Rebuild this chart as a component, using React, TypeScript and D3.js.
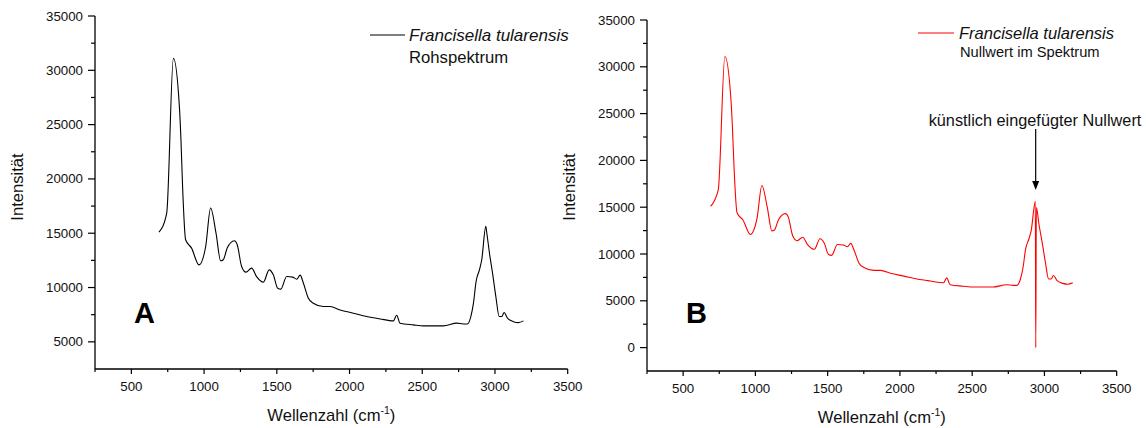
import React from "react";
import * as d3 from "d3";

const wavenumbers = [690, 743, 789, 830, 841, 853, 873, 914, 965, 1011, 1045, 1082, 1114, 1132, 1159, 1208, 1228, 1258, 1288, 1327, 1361, 1408, 1447, 1476, 1506, 1527, 1568, 1609, 1637, 1660, 1683, 1717, 1751, 1820, 1866, 1935, 2027, 2118, 2210, 2302, 2324, 2347, 2439, 2508, 2623, 2645, 2738, 2783, 2810, 2834, 2852, 2870, 2893, 2909, 2937, 2944, 2962, 2985, 3006, 3029, 3047, 3063, 3086, 3127, 3161, 3196];
const intensities = [15100, 16860, 31100, 26700, 23600, 19010, 14400, 13630, 12090, 13780, 17320, 15010, 12460, 12560, 13640, 14310, 13940, 11940, 11420, 11790, 11010, 10500, 11630, 11170, 9940, 9850, 11010, 10960, 10770, 11140, 10400, 9020, 8560, 8250, 8250, 7940, 7640, 7330, 7110, 6930, 7450, 6720, 6560, 6470, 6470, 6470, 6720, 6650, 6650, 7330, 8560, 10550, 11630, 12560, 15630, 15000, 13180, 11170, 9170, 7330, 7330, 7700, 7180, 6860, 6770, 6930];

const nullWavenumber = 2940;
const nullIntensity = 0;

const xTicks = [500, 1000, 1500, 2000, 2500, 3000, 3500];
const xMinorTicks = [250, 750, 1250, 1750, 2250, 2750, 3250];
const yTicksA = [5000, 10000, 15000, 20000, 25000, 30000, 35000];
const yMinorA = [7500, 12500, 17500, 22500, 27500, 32500];
const yTicksB = [0, 5000, 10000, 15000, 20000, 25000, 30000, 35000];
const yMinorB = [2500, 7500, 12500, 17500, 22500, 27500, 32500];

type Pt = { x: number; y: number };
const spectrumA: Pt[] = wavenumbers.map((x, i) => ({ x, y: intensities[i] }));
const spectrumB: Pt[] = [...spectrumA, { x: nullWavenumber, y: nullIntensity }].sort((a, b) => a.x - b.x);

const FONT = "'Liberation Sans', Arial, sans-serif";

function Panel(props: {
  x0: number; x1: number; yTop: number; yBottom: number; yMin: number;
  data: Pt[]; color: string; yTicks: number[]; yMinor: number[];
  letter: string; letterX: number; letterY: number; yLabelX: number;
}) {
  const { x0, x1, yTop, yBottom, yMin, data, color, yTicks, yMinor } = props;
  const xs = d3.scaleLinear().domain([250, 3500]).range([x0, x1]);
  const ys = d3.scaleLinear().domain([yMin, 35000]).range([yBottom, yTop]);
  const line = d3.line<Pt>().x(d => xs(d.x)).y(d => ys(d.y)).curve(d3.curveMonotoneX);
  return (
    <g fontFamily={FONT}>
      <path d={line(data) || ""} fill="none" stroke={color} strokeWidth={1.1} />
      <line x1={x0} x2={x0} y1={yTop} y2={yBottom} stroke="#000" strokeWidth={1.3} />
      <line x1={x0} x2={x1} y1={yBottom} y2={yBottom} stroke="#000" strokeWidth={1.3} />
      {yTicks.map(t => (
        <g key={"y" + t}>
          <line x1={x0 - 7} x2={x0} y1={ys(t)} y2={ys(t)} stroke="#000" strokeWidth={1.2} />
          <text x={x0 - 12} y={ys(t) + 4.5} textAnchor="end" fontSize={13.3} fill="#111">{t}</text>
        </g>
      ))}
      {yMinor.map(t => (
        <line key={"ym" + t} x1={x0 - 4} x2={x0} y1={ys(t)} y2={ys(t)} stroke="#000" strokeWidth={1.2} />
      ))}
      {xTicks.map(t => (
        <g key={"x" + t}>
          <line x1={xs(t)} x2={xs(t)} y1={yBottom} y2={yBottom + 5} stroke="#000" strokeWidth={1.2} />
          <text x={xs(t)} y={yBottom + 22} textAnchor="middle" fontSize={13.3} fill="#111">{t}</text>
        </g>
      ))}
      {xMinorTicks.map(t => (
        <line key={"xm" + t} x1={xs(t)} x2={xs(t)} y1={yBottom} y2={yBottom + 3} stroke="#000" strokeWidth={1.2} />
      ))}
      <text x={(x0 + x1) / 2} y={yBottom + 52} textAnchor="middle" fontSize={16.6} fill="#111">
        Wellenzahl (cm<tspan fontSize={10.5} dy={-7}>-1</tspan><tspan dy={7}>)</tspan>
      </text>
      <text transform={`translate(${props.yLabelX},187) rotate(-90)`} textAnchor="middle" fontSize={16.6} fill="#111">Intensität</text>
      <text x={props.letterX} y={props.letterY} fontSize={29} fontWeight="bold" fill="#000">{props.letter}</text>
    </g>
  );
}

export default function App() {
  const xsB = d3.scaleLinear().domain([250, 3500]).range([646.5, 1116.7]);
  const arrowX = xsB(nullWavenumber);
  return (
    <svg width={1146} height={428} style={{ position: "absolute", left: 0, top: 0, background: "#fff" }}>
      <Panel x0={95} x1={567.7} yTop={16} yBottom={369} yMin={2500} data={spectrumA} color="#000"
        yTicks={yTicksA} yMinor={yMinorA} letter="A" letterX={134} letterY={323} yLabelX={23} />
      <Panel x0={647} x1={1116.7} yTop={20} yBottom={371} yMin={-2500} data={spectrumB} color="#ff0000"
        yTicks={yTicksB} yMinor={yMinorB} letter="B" letterX={686} letterY={323} yLabelX={575} />
      <g fontFamily={FONT} fill="#111">
        <line x1={370} x2={405} y1={35} y2={35} stroke="#000" strokeWidth={1.2} />
        <text x={409} y={41} fontSize={17} fontStyle="italic">Francisella tularensis</text>
        <text x={409} y={63} fontSize={16.7}>Rohspektrum</text>
        <line x1={918} x2={954} y1={33} y2={33} stroke="#ff0000" strokeWidth={1.2} />
        <text x={959} y={39} fontSize={16.5} fontStyle="italic">Francisella tularensis</text>
        <text x={960} y={57} fontSize={14.7}>Nullwert im Spektrum</text>
        <text x={1035} y={126} fontSize={16.3} textAnchor="middle">künstlich eingefügter Nullwert</text>
        <line x1={arrowX} x2={arrowX} y1={129} y2={182} stroke="#000" strokeWidth={1.2} />
        <path d={`M${arrowX - 3.5},181 L${arrowX + 3.5},181 L${arrowX},190 Z`} fill="#000" />
      </g>
    </svg>
  );
}
